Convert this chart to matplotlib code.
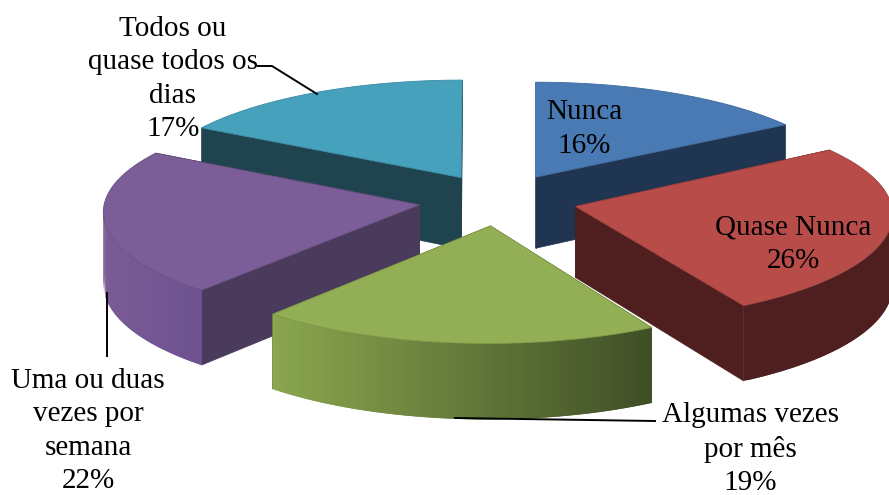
import numpy as np
import matplotlib
matplotlib.use("Agg")
import matplotlib.pyplot as plt
from matplotlib.colors import to_rgb

plt.rcParams['font.family'] = ['Liberation Serif', 'DejaVu Serif']

labels = ['Nunca\n16%', 'Quase Nunca\n26%', 'Algumas vezes\npor mês\n19%',
          'Uma ou duas\nvezes por\nsemana\n22%', 'Todos ou\nquase todos os\ndias\n17%']
values = [16, 26, 19, 22, 17]
top_colors = ['#4A7AB3', '#B84C49', '#93AF55', '#7B5D97', '#46A1BC']
radial_colors = ['#203551', '#4F1F1F', '#5E7436', '#4A3A5C', '#1F444F']
arc_left = ['#203551', '#4F1F1F', '#8AA64E', '#7A5B95', '#1F444F']
arc_right = ['#203551', '#4F1F1F', '#3F4E26', '#6D5290', '#1F444F']
edge_colors = ['#3F6A9C', '#A04340', '#7F9A48', '#68507F', '#3B8BA3']

label_x = [584, 793, 750, 88, 173]
label_y = [129, 244, 449, 431, 79]

# pie centre and projection, in pixels
cx, cy = 498, 200
ex, ey = 80, 26       # how far each slice is pulled out
A, B, a = 311.6, 106, 0.098

# small per slice nudges, the original perspective is not quite an ellipse
tip_dx = [-1, 0, 0, 0, 4]
arc_dx = [-1, 4, -3, -3, 5]
arc_dy = [1.5, -2.5, 0, -3, -1]


def project(theta):
    u, v = np.sin(theta), np.cos(theta)
    w = 1 + a * v
    return A * u / w, -B * v / w, 71 - 5 * v


def mix(c1, c2, t):
    return tuple((1 - t) * np.array(to_rgb(c1)) + t * np.array(to_rgb(c2)))


fig = plt.figure(figsize=(8.89, 4.95), dpi=100)
ax = fig.add_axes([0, 0, 1, 1])
ax.set_xlim(0, 889)
ax.set_ylim(495, 0)
ax.axis('off')

edges = np.radians(np.concatenate([[0], np.cumsum(values)]) * 3.6)

# back slices first
for z, i in enumerate([4, 0, 3, 1, 2]):
    t0, t1 = edges[i], edges[i + 1]
    mid = (t0 + t1) / 2
    tx = cx + ex * np.sin(mid)
    ty = cy - ey * np.cos(mid)
    th = np.linspace(t0, t1, 120)
    dx, dy, d = project(th)
    x = tx + dx + arc_dx[i]
    y = ty + dy + arc_dy[i]
    tx = tx + tip_dx[i]

    # flat walls along the two cut edges
    for k in [0, -1]:
        ax.fill([tx, x[k], x[k], tx], [ty, y[k], y[k] + d[k], ty + 71],
                color=radial_colors[i], lw=0.5, zorder=z)

    # curved outer wall, only the part that faces the viewer
    front = np.cos(th) < 0.02
    xf, yf, df = x[front], y[front], d[front]
    if len(xf) > 1:
        # walk left to right, each strip overlaps the next so no seams show
        order = np.argsort(xf)
        xf, yf, df = xf[order], yf[order], df[order]
        for j in range(len(xf) - 1):
            t = (xf[j] - xf[0]) / (xf[-1] - xf[0])
            c = mix(arc_left[i], arc_right[i], t)
            e = min(j + 3, len(xf))
            ax.fill(np.r_[xf[j:e], xf[j:e][::-1]],
                    np.r_[yf[j:e], (yf + df)[j:e][::-1]],
                    facecolor=c, edgecolor='none', zorder=z)

    ax.fill(np.r_[tx, x], np.r_[ty, y], facecolor=top_colors[i],
            edgecolor=edge_colors[i], lw=0.6, zorder=z)

for s, lx, ly in zip(labels, label_x, label_y):
    ax.text(lx, ly, s, ha='center', va='center', fontsize=21, color='black',
            linespacing=1.36, zorder=10)

# leader lines
ax.plot([258, 272, 317], [66, 66, 94], color='black', lw=1.4, zorder=9)
ax.plot([107, 107], [293, 356], color='black', lw=1.4, zorder=9)
ax.plot([455, 655], [418, 421], color='black', lw=1.4, zorder=9)

fig.savefig('out.png', dpi=100)
